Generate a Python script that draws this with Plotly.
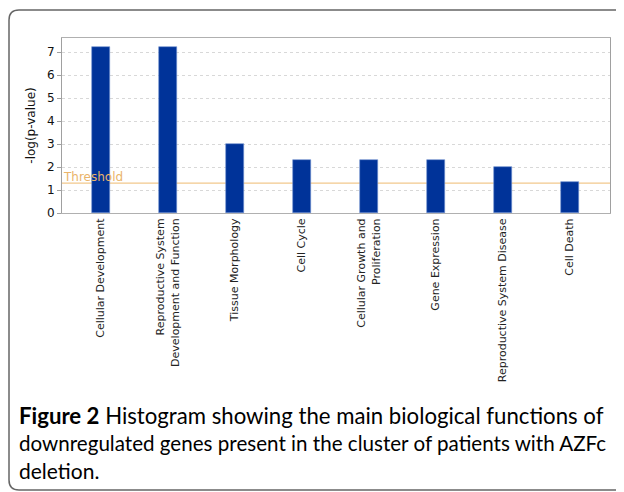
import plotly.graph_objects as go

categories = [
    "Cellular Development",
    "Reproductive System<br>Development and Function",
    "Tissue Morphology",
    "Cell Cycle",
    "Cellular Growth and<br>Proliferation",
    "Gene Expression",
    "Reproductive System Disease",
    "Cell Death",
]
values = [7.24, 7.24, 2.99, 2.31, 2.31, 2.31, 2.02, 1.34]
threshold = 1.3
y_ticks = [0, 1, 2, 3, 4, 5, 6, 7]

OFF = 8  # page body margin
W, H = 624 - OFF, 492 - OFF
PL, PR, PT, PB = 62, 610, 38, 213  # plot area in window pixels
L, T = PL - OFF, PT - OFF
R = W - (PR - OFF)
B = H - (PB - OFF)
PW = PR - PL
PH = PB - PT


def px(x):
    return (x - PL) / PW


def py(y):
    return (PB - y) / PH


fig = go.Figure()
fig.add_trace(go.Bar(
    x=list(range(len(categories))),
    y=values,
    width=0.27,
    marker=dict(color="#003399", line=dict(color="#6f8fd0", width=0.6)),
))

fig.add_shape(type="line", xref="paper", yref="y", x0=0, x1=1, y0=threshold, y1=threshold,
              line=dict(color="#f2c88c", width=1.2), layer="below")
fig.add_annotation(xref="paper", yref="y", x=px(62), y=threshold, xanchor="left", yanchor="bottom",
                   text="Threshold", showarrow=False,
                   font=dict(family="DejaVu Sans", size=12, color="#eab46a"), yshift=-3, xshift=-1)

# outer rounded frame
x0, x1, y0, y1, r = 9, 660, 10, 490, 10
path = (f"M {px(x1)},{py(y0)} L {px(x0+r)},{py(y0)} Q {px(x0)},{py(y0)} {px(x0)},{py(y0+r)} "
        f"L {px(x0)},{py(y1-r)} Q {px(x0)},{py(y1)} {px(x0+r)},{py(y1)} L {px(x1)},{py(y1)}")
fig.add_shape(type="path", xref="paper", yref="paper", path=path,
              line=dict(color="#666666", width=1.5))

caption_lines = [
    "<b>Figure 2</b> Histogram showing the main biological functions of",
    "downregulated genes present in the cluster of patients with AZFc",
    "deletion.",
]
caption_sizes = [22.2, 20.6, 21]
for i, line in enumerate(caption_lines):
    fig.add_annotation(xref="paper", yref="paper", x=px(19), y=py(415 + i * 27.5),
                       xanchor="left", yanchor="middle", text=line, showarrow=False,
                       font=dict(family="Lato", size=caption_sizes[i], color="#000000"), xshift=-2)

fig.update_layout(
    width=W, height=H,
    margin=dict(l=L, r=R, t=T, b=B, autoexpand=False),
    paper_bgcolor="white", plot_bgcolor="white",
    showlegend=False,
    bargap=0,
)
fig.update_xaxes(
    tickmode="array", tickvals=list(range(len(categories))), ticktext=categories,
    range=[-0.58, 7.6], tickangle=-90, ticks="", showgrid=False,
    showline=True, linecolor="#b0b0b0", linewidth=1, mirror=True,
    tickfont=dict(family="DejaVu Sans", size=11, color="#222222"),
    zeroline=False,
)
fig.update_yaxes(
    range=[0, 7.62], tickmode="array", tickvals=y_ticks,
    showgrid=True, gridcolor="#d8d8d8", griddash="dot", gridwidth=1,
    showline=True, linecolor="#a0a0a0", linewidth=1, mirror=True,
    ticks="outside", ticklen=4, tickcolor="#a0a0a0",
    tickfont=dict(family="DejaVu Sans", size=12, color="#111111"),
    title=dict(text="-log(p-value)", font=dict(family="DejaVu Sans", size=12, color="#111111"), standoff=8),
    zeroline=False,
)

fig.write_html("out.html")
